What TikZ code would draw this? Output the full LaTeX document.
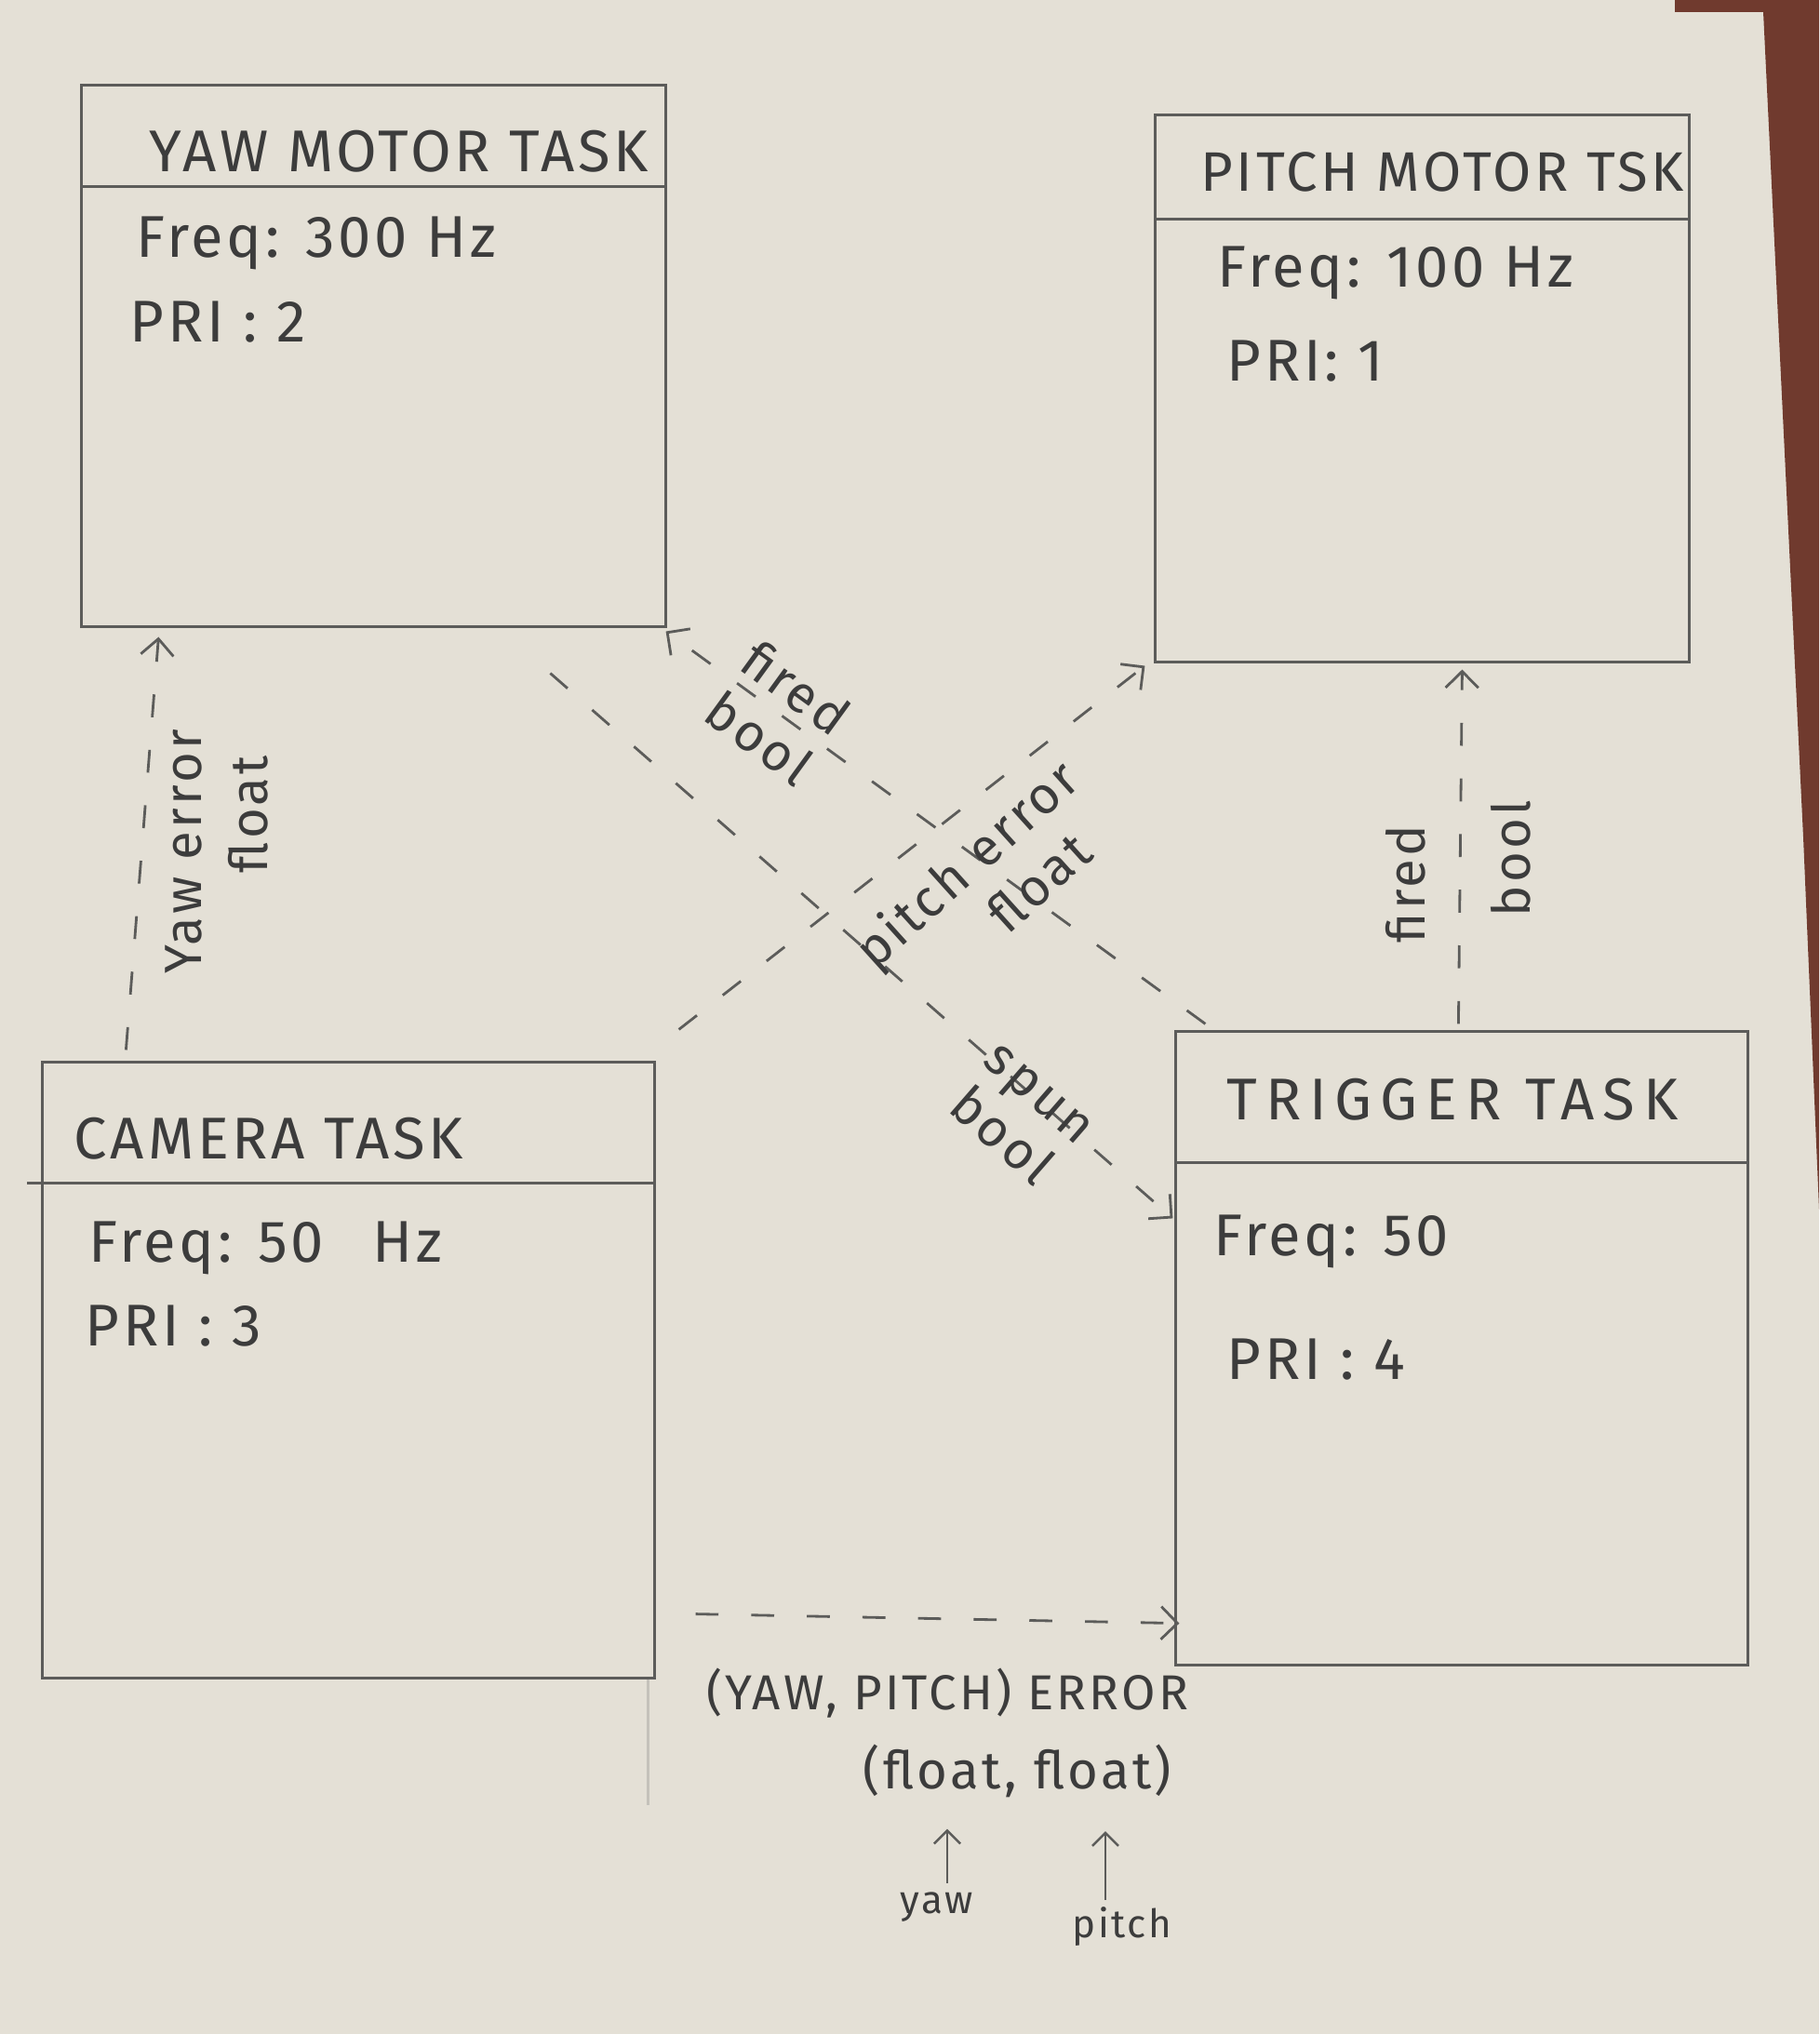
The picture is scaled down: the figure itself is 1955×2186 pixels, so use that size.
\documentclass[tikz,border=0pt]{standalone}
\usepackage{fontspec}
\setmainfont{Fira Sans}[LetterSpace=6]
\usetikzlibrary{arrows.meta,calc}

\definecolor{paper}{RGB}{228,224,214}
\definecolor{wood}{RGB}{112,58,46}
\definecolor{pencil}{RGB}{92,92,90}
\definecolor{penciltext}{RGB}{60,60,60}
\definecolor{faint}{RGB}{196,193,186}

\tikzset{
  taskbox/.style={draw=pencil, line width=0.8pt, rectangle, inner sep=0pt},
  rule/.style={draw=pencil, line width=0.8pt},
  title/.style={text=penciltext, font=\fontsize{18}{20}\selectfont, anchor=west, inner sep=0pt},
  field/.style={text=penciltext, font=\fontsize{18}{20}\selectfont, anchor=west, inner sep=0pt},
  lbl/.style={text=penciltext, font=\fontsize{16}{18}\selectfont, inner sep=1pt, align=center},
  small/.style={text=penciltext, font=\fontsize{12}{14}\selectfont, inner sep=1pt},
  flow/.style={draw=pencil, line width=0.8pt, dash pattern=on 7pt off 10pt,
    -{Straight Barb[length=5pt,width=10pt]}},
  pointer/.style={draw=pencil, line width=0.7pt,
    -{Straight Barb[length=4pt,width=8pt]}},
}

\begin{document}
\begin{tikzpicture}[x=0.01cm,y=-0.01cm]
  % sheet of paper on the desk
  \fill[paper] (0,0) rectangle (1955,2186);
  \fill[wood] (1800,0) -- (1955,0) -- (1955,1300) -- (1938,900) -- (1895,13) -- (1800,13) -- cycle;
  \useasboundingbox (0,0) rectangle (1955,2186);

  % task boxes
  \node[taskbox, minimum width=6.27cm, minimum height=5.81cm] (yaw)  at (401.5,382.5) {};
  \node[taskbox, minimum width=5.73cm, minimum height=5.87cm] (pitch) at (1528.5,417.5) {};
  \node[taskbox, minimum width=6.57cm, minimum height=6.61cm] (cam)  at (374.5,1472.5) {};
  \node[taskbox, minimum width=6.14cm, minimum height=6.80cm] (trig) at (1571,1449) {};

  % header rules
  \draw[rule] ($(yaw.north west)+(0,110)$) -- ($(yaw.north east)+(0,110)$);
  \draw[rule] ($(pitch.north west)+(0,113)$) -- ($(pitch.north east)+(0,113)$);
  \draw[rule] ($(cam.north west)+(-15,131)$) -- ($(cam.north east)+(0,131)$);
  \draw[rule] ($(trig.north west)+(0,142)$) -- ($(trig.north east)+(0,142)$);
  \draw[faint, line width=0.8pt] ($(cam.south east)+(-8,0)$) -- ($(cam.south east)+(-8,135)$);

  % box contents
  \node[title] (yawt) at (160,163) {YAW MOTOR TASK};
  \node[field] (yawf) at (146,261) {Freq: 300 Hz};
  \node[field] (yawp) at (139,346) {PRI : 2};

  \node[title, font=\fontsize{17}{19}\selectfont] (pitcht) at (1290,185) {PITCH MOTOR TSK};
  \node[field] (pitchf) at (1308,293) {Freq: 100 Hz};
  \node[field] (pitchp) at (1318,388) {PRI: 1};

  \node[title] (camt) at (79,1224) {CAMERA TASK};
  \node[field] (camf) at (95,1341) {Freq: 50\hspace{0.5em} Hz};
  \node[field] (camp) at (91,1425) {PRI : 3};

  \node[title, font=\fontsize{18}{20}\selectfont\addfontfeatures{LetterSpace=14}] (trigt) at (1318,1182) {TRIGGER TASK};
  \node[field] (trigf) at (1304,1334) {Freq: 50};
  \node[field] (trigp) at (1318,1461) {PRI : 4};

  % data flows between tasks
  \draw[flow] ($(cam.north west)+(91,-12)$) -- ($(yaw.south west)+(84,10)$);
  \draw[flow] ($(trig.north west)+(33,-7)$) -- ($(yaw.south east)+(-1,4)$);
  \draw[flow] ($(yaw.south west)+(505,49)$) -- ($(trig.north west)+(-2,202)$);
  \draw[flow] ($(cam.north east)+(25,-34)$) -- ($(pitch.south west)+(-10,3)$);
  \draw[flow] ($(trig.north west)+(305,-7)$) -- ($(pitch.south west)+(331,7)$);
  \draw[flow] ($(cam.south east)+(43,-70)$) -- ($(trig.south west)+(5,-46)$);

  % flow labels
  \node[lbl, rotate=90] (yerr) at (233,915) {Yaw error\\[2pt]\hspace{0.8cm}float};
  \node[lbl, rotate=-36] (firedyaw) at (836,766) {fired\\[1pt]bool\hspace{0.3cm}};
  \node[lbl, rotate=42] (perr) at (1060,952) {pitch error\\[1pt]\hspace{0.9cm}float};
  \node[lbl, rotate=-41] (spun) at (1095,1200) {spun\\bool\hspace{0.5cm}};
  \node[lbl, rotate=90] (firedpitch) at (1567,950) {fired\\[0.5cm]\hspace{0.55cm}bool};

  \node[lbl, font=\fontsize{15}{17}\selectfont] (err) at (1018,1820) {(YAW, PITCH) ERROR};
  \node[lbl, anchor=east] (fa) at (1097,1903) {(float,};
  \node[lbl, anchor=west] (fb) at (1107,1903) {float)};

  \node[small] (yawlbl) at (1007,2050) {yaw};
  \node[small] (pitchlbl) at (1206,2071) {pitch};
  \coordinate (ya) at ($(yawlbl.north)+(11,-6)$);
  \coordinate (pa) at ($(pitchlbl.north)+(-18,-4)$);
  \draw[pointer] (ya) -- ($(ya |- fa.south)+(0,30)$);
  \draw[pointer] (pa) -- ($(pa |- fb.south)+(0,33)$);
\end{tikzpicture}
\end{document}
